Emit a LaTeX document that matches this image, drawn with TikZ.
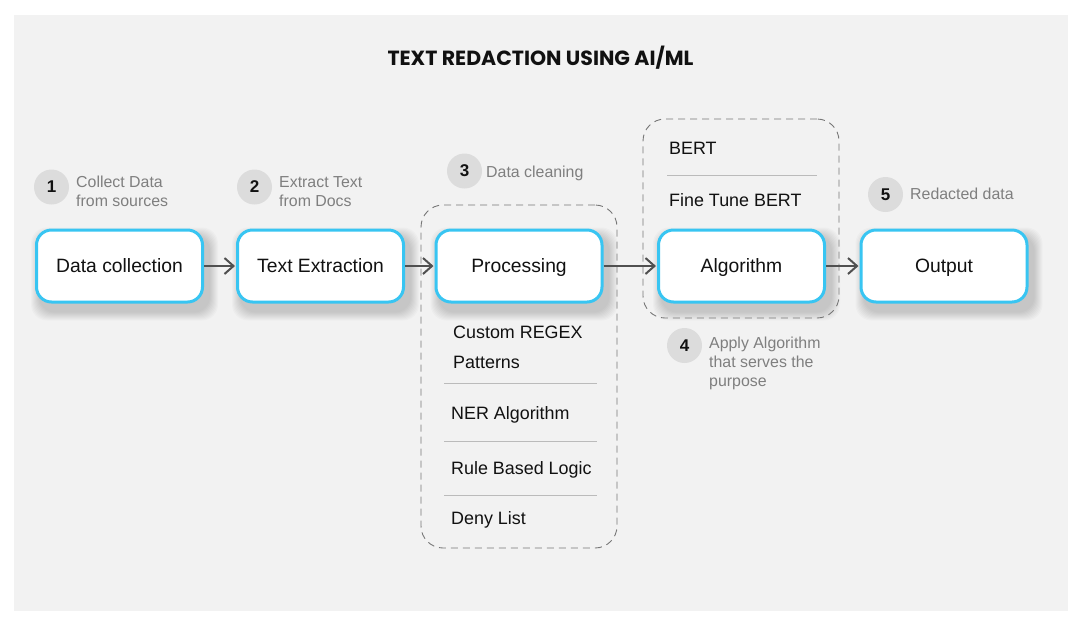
\documentclass[tikz,border=0pt]{standalone}
\usepackage{fontspec}
\setmainfont{Liberation Sans}
\newfontfamily\titlefont{Poppins}
\usetikzlibrary{arrows.meta,calc,backgrounds}
\definecolor{bgc}{HTML}{F2F2F2}
\definecolor{cy}{HTML}{38C5F2}
\definecolor{arr}{HTML}{505050}
\definecolor{ann}{HTML}{7F7F7F}
\definecolor{circ}{HTML}{DCDCDC}
\definecolor{dash}{HTML}{777777}
\definecolor{sep}{HTML}{BBBBBB}
\definecolor{ink}{HTML}{111111}
\tikzset{
  x=1pt, y=-1pt,
  stagebox/.style={draw=cy, line width=3pt, fill=white, rounded corners=15pt,
    minimum width=166pt, minimum height=72pt, inner sep=0pt,
    text height=13.8pt, text depth=0pt,
    font=\fontsize{19.3}{23}\selectfont, text=ink},
  shadowlayer/.style={fill=black, opacity=0.02, rounded corners=16pt},
  flow/.style={draw=arr, line width=2pt, shorten >=1pt, -{Straight Barb[length=9pt,width=16pt,line width=2pt]}},
  group/.style={draw=dash, line width=0.9pt, dash pattern=on 7pt off 5pt, rounded corners=22pt, inner sep=0pt},
  numdot/.style={circle, fill=circ, minimum size=35pt, inner sep=0pt, font=\bfseries\fontsize{17}{20}\selectfont, text=ink},
  annot/.style={anchor=base west, inner sep=0pt, text=ann, font=\fontsize{15.9}{18}\selectfont},
  item/.style={anchor=base west, inner sep=0pt, text=ink, font=\fontsize{17.9}{21}\selectfont},
  sepline/.style={draw=sep, line width=1pt},
}
\begin{document}
\begin{tikzpicture}
\useasboundingbox (0,0) rectangle (1080,625);
\node[anchor=base, inner sep=0pt, font=\titlefont\bfseries\fontsize{20.5}{24}\selectfont, text=ink] (title) at (540.5,65.5) {TEXT REDACTION USING AI/ML};

% dashed groups
\node[group, minimum width=196pt, minimum height=343pt] (g3) at (519,376.5) {};
\node[group, minimum width=196pt, minimum height=199pt] (g4) at (741,218.5) {};

% stage boxes
\node[stagebox] (dc) at (119.5,266) {Data collection};
\node[stagebox] (te) at (320.5,266) {Text Extraction};
\node[stagebox] (pr) at (519,266) {Processing};
\node[stagebox] (al) at (741.5,266) {Algorithm};
\node[stagebox] (out) at (944,266) {Output};

% background and soft shadows
\begin{scope}[on background layer]
\fill[bgc] (14,15) rectangle (1068,611);
\foreach \n in {dc,te,pr,al,out}{
  \foreach \k in {1,...,9}{
    \fill[shadowlayer] ($(\n.north west)+(5-\k,8-\k)$) rectangle ($(\n.south east)+(5+\k,8+\k)$);
  }
}
\end{scope}

% arrows
\draw[flow] (dc.east) -- (te.west);
\draw[flow] (te.east) -- (pr.west);
\draw[flow] (pr.east) -- (al.west);
\draw[flow] (al.east) -- (out.west);

% step markers
\node[numdot] (n1) at (51.5,187) {1};
\node[annot] (a1a) at (76,187) {Collect Data};
\node[annot] (a1b) at (76,206) {from sources};
\node[numdot] (n2) at (254.5,187) {2};
\node[annot] (a2a) at (279,187) {Extract Text};
\node[annot] (a2b) at (279,206) {from Docs};
\node[numdot] (n3) at (464.5,171) {3};
\node[annot] (a3) at (486,177.5) {Data cleaning};
\node[numdot] (n4) at (684.5,345.5) {4};
\node[annot] (a4a) at (709,348) {Apply Algorithm};
\node[annot] (a4b) at (709,367.5) {that serves the};
\node[annot] (a4c) at (709,386) {purpose};
\node[numdot] (n5) at (885.5,194.5) {5};
\node[annot] (a5) at (910,199) {Redacted data};

% processing items
\node[item] (i1a) at (453,338) {Custom REGEX};
\node[item] (i1b) at (453,368) {Patterns};
\draw[sepline] (444,383) -- (597,383);
\node[item] (i2) at (451,419) {NER Algorithm};
\draw[sepline] (444,441) -- (597,441);
\node[item] (i3) at (451,474) {Rule Based Logic};
\draw[sepline] (444,495) -- (597,495);
\node[item] (i4) at (451,524) {Deny List};

% algorithm items
\node[item] (b1) at (669,154) {BERT};
\draw[sepline] (667,175) -- (817,175);
\node[item] (b2) at (669,206) {Fine Tune BERT};
\end{tikzpicture}
\end{document}
